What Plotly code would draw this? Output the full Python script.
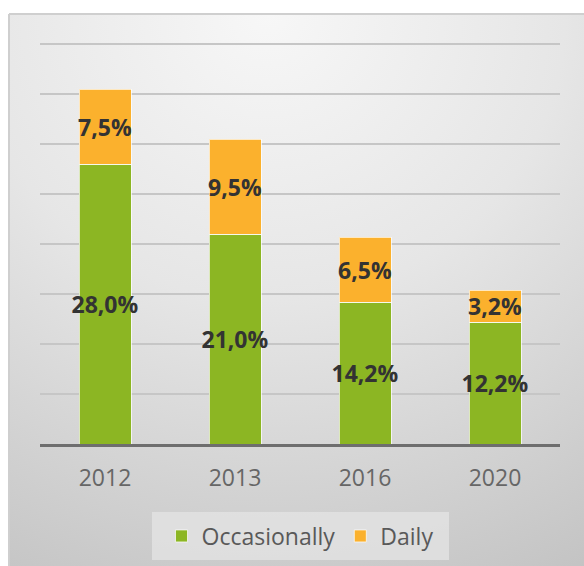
import urllib.parse
import plotly.graph_objects as go

# Share of respondents per survey year (%)
years = ["2012", "2013", "2016", "2020"]
occasionally = [28.0, 21.0, 14.2, 12.2]
daily = [7.5, 9.5, 6.5, 3.2]

GREEN = "#8cb623"
ORANGE = "#fbb12d"
FONT = "Open Sans"

W, H = 584, 566
YMAX = 41
ML, MR, MB = 40, 24, 122
PW = W - ML - MR
PH = YMAX * 10          # 10 px per percentage point
MT = H - MB - PH


def fmt(v):
    return f"{v:.1f}".replace(".", ",") + "%"


def px_to_paper(x, y):
    return (x - ML) / PW, (H - MB - y) / PH


fig = go.Figure()
for name, vals, col in [("Occasionally", occasionally, GREEN), ("Daily", daily, ORANGE)]:
    fig.add_trace(go.Bar(
        x=years, y=vals, name=name,
        marker=dict(color=col, line=dict(color="rgba(255,255,255,0.7)", width=1)),
        text=[fmt(v) for v in vals],
        textposition="inside", insidetextanchor="middle",
        textangle=0, constraintext="none",
        textfont=dict(family=FONT, size=23, color="#333333", weight="bold"),
        hoverinfo="skip",
    ))

# soft grey gradient panel behind the chart
bx, by = 9, 14
bw, bh = W - bx, H - by
svg = (
    f'<svg xmlns="http://www.w3.org/2000/svg" width="{bw}" height="{bh}">'
    '<defs><radialGradient id="g" cx="0.45" cy="0" r="1.15" gradientUnits="objectBoundingBox">'
    '<stop offset="0" stop-color="#f7f7f7"/>'
    '<stop offset="0.45" stop-color="#e6e6e6"/>'
    '<stop offset="1" stop-color="#c3c3c3"/>'
    '</radialGradient></defs>'
    f'<rect width="{bw}" height="{bh}" fill="url(#g)"/></svg>'
)
src = "data:image/svg+xml;charset=utf-8," + urllib.parse.quote(svg)
x0, y0 = px_to_paper(bx, by)
fig.add_layout_image(dict(
    source=src, xref="paper", yref="paper", x=x0, y=y0,
    sizex=bw / PW, sizey=bh / PH, sizing="stretch",
    xanchor="left", yanchor="top", layer="below",
))

# panel border on the top and left edges
x1, _ = px_to_paper(W, 0)
_, y1 = px_to_paper(0, H)
fig.add_shape(type="line", xref="paper", yref="paper", x0=x0, y0=y0, x1=x1, y1=y0,
              line=dict(color="#cfcfcf", width=2), layer="below")
fig.add_shape(type="line", xref="paper", yref="paper", x0=x0, y0=y0, x1=x0, y1=y1,
              line=dict(color="#cfcfcf", width=2), layer="below")

# lighter backing box for the legend
lx0, ly0 = px_to_paper(152, 512)
lx1, ly1 = px_to_paper(449, 560)
fig.add_shape(type="rect", xref="paper", yref="paper", x0=lx0, y0=ly0, x1=lx1, y1=ly1,
              fillcolor="rgba(228,228,228,0.75)", line=dict(width=0), layer="below")

fig.update_layout(
    width=W, height=H,
    margin=dict(l=ML, r=MR, t=MT, b=MB, autoexpand=False),
    barmode="stack", bargap=0.6,
    paper_bgcolor="white", plot_bgcolor="rgba(0,0,0,0)",
    font=dict(family=FONT),
    showlegend=True,
    legend=dict(
        orientation="h", x=0.5, xanchor="center", y=(ly0 + ly1) / 2, yanchor="middle",
        bgcolor="rgba(0,0,0,0)",
        font=dict(family=FONT, size=23, color="#595959"),
        itemwidth=30, traceorder="normal",
    ),
    xaxis=dict(
        showline=True, linecolor="#6e6e6e", linewidth=3,
        ticks="outside", ticklen=11, tickcolor="rgba(0,0,0,0)",
        tickfont=dict(family=FONT, size=23, color="#666666"),
        showgrid=False, fixedrange=True,
    ),
    yaxis=dict(
        range=[0, YMAX], tickvals=[5, 10, 15, 20, 25, 30, 35, 40],
        showticklabels=False, showgrid=True, gridcolor="#c6c6c6", gridwidth=2,
        zeroline=False, showline=False, fixedrange=True,
    ),
)

fig.write_html("out.html")
